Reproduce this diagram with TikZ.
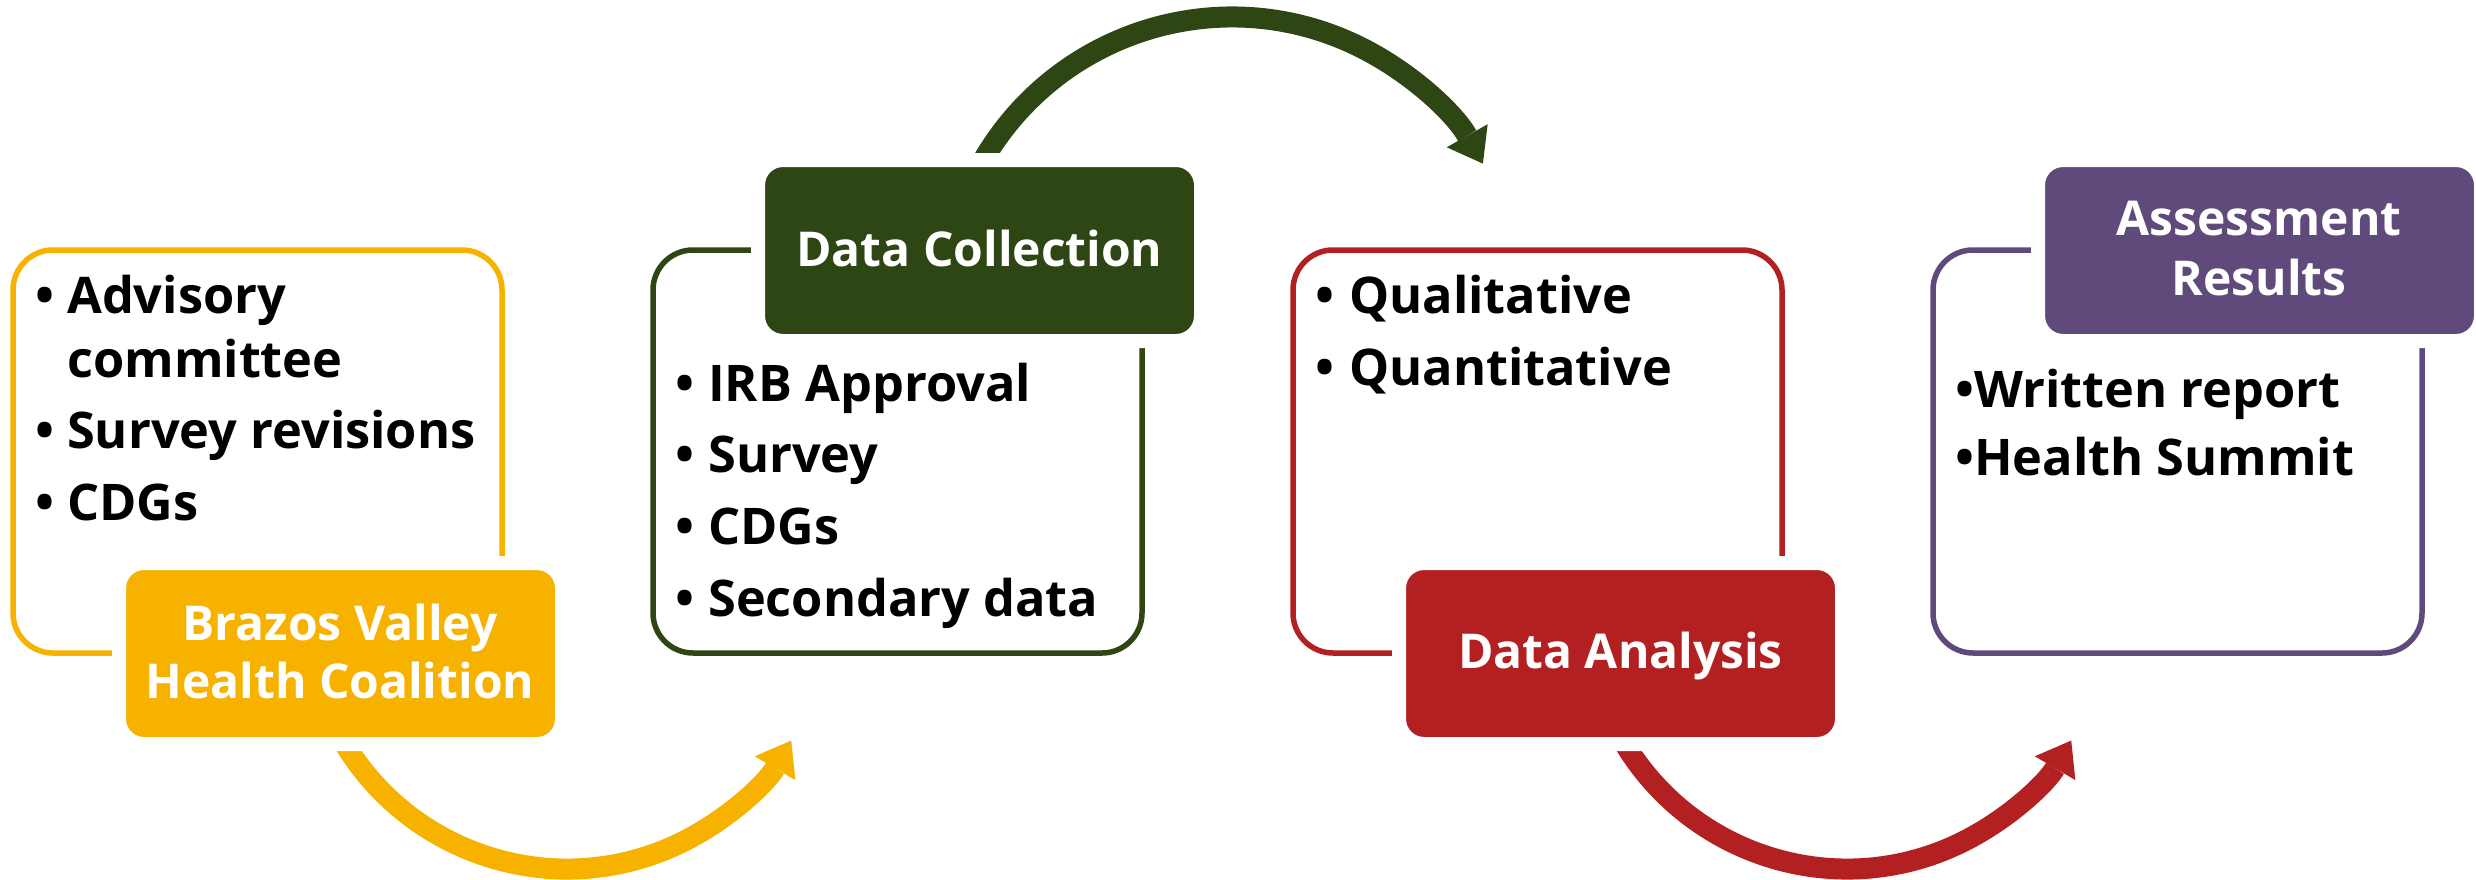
\documentclass[tikz,border=0pt]{standalone}
\usepackage{fontspec}
\setmainfont{Open Sans}
\usetikzlibrary{arrows.meta,calc}
\definecolor{cy}{RGB}{247,178,0}
\definecolor{cg}{RGB}{46,70,20}
\definecolor{cr}{RGB}{178,32,34}
\definecolor{cp}{RGB}{96,74,123}
\begin{document}
\begin{tikzpicture}[x=1pt,y=-1pt,
  outl/.style={draw=#1, line width=5.5pt, rounded corners=40pt, minimum width=489pt, minimum height=403pt, anchor=north west, inner sep=0pt, outer sep=0pt},
  hbox/.style={fill=#1, draw=white, line width=14pt, rounded corners=25pt, minimum width=443pt, minimum height=181pt, anchor=north west, inner sep=0pt, outer sep=0pt},
  body/.style={anchor=base west, inner sep=0pt, font=\fontsize{50.5}{60}\selectfont\bfseries},
  head/.style={anchor=base, inner sep=0pt, text=white, font=\fontsize{48}{58}\selectfont\bfseries},
  arr/.style={draw=#1, line width=21pt, -{Triangle[length=32pt,width=47pt,line width=0pt]}}]
\useasboundingbox (0,0) rectangle (2476,879);
% arc centres and arrow ends
\coordinate (c1) at (567,609);
\coordinate (c2) at (1232,305);
\coordinate (c3) at (1847,609);
\coordinate (t1) at ($(c1)+(153:260)$);
\coordinate (t2) at ($(c2)+(206.8:288)$);
\coordinate (t3) at ($(c3)+(153:260)$);
% arrows
\draw[arr=cy] (t1) arc[start angle=153, end angle=30.4, radius=260];
\draw[arr=cg] (t2) arc[start angle=206.8, end angle=330.6, radius=288];
\draw[arr=cr] (t3) arc[start angle=153, end angle=30.4, radius=260];
% outline boxes
\node[outl=cy] (o1) at (13,250) {};
\node[outl=cg] (o2) at (653,250) {};
\node[outl=cr] (o3) at (1293,250) {};
\node[outl=cp] (o4) at (1933,250) {};
% filled header boxes (white rim hides the outline behind)
\node[hbox=cy] (h1) at (119,563) {};
\node[hbox=cg] (h2) at (758,160) {};
\node[hbox=cr] (h3) at (1399,563) {};
\node[hbox=cp] (h4) at (2038,160) {};
% header texts
\node[head] (h1a) at (340,640) {Brazos Valley};
\node[head] (h1b) at (340,698) {Health Coalition};
\node[head] (h2a) at (979.5,266) {Data Collection};
\node[head] (h3a) at (1620.5,668) {Data Analysis};
\node[head] (h4a) at (2259,235) {Assessment};
\node[head] (h4b) at (2259,295) {Results};
% box 1 items
\node[body] (b1a) at (35,313) {\makebox[32pt][l]{•}Advisory};
\node[body] (b1b) at (67,377) {committee};
\node[body] (b1c) at (35,448) {\makebox[32pt][l]{•}Survey revisions};
\node[body] (b1d) at (35,520) {\makebox[32pt][l]{•}CDGs};
% box 2 items
\node[body] (b2a) at (675,401) {\makebox[33pt][l]{•}IRB Approval};
\node[body] (b2b) at (675,472) {\makebox[33pt][l]{•}Survey};
\node[body] (b2c) at (675,544) {\makebox[33pt][l]{•}CDGs};
\node[body] (b2d) at (675,616) {\makebox[33pt][l]{•}Secondary data};
% box 3 items
\node[body] (b3a) at (1315,313) {\makebox[34pt][l]{•}Qualitative};
\node[body] (b3b) at (1315,385) {\makebox[34pt][l]{•}Quantitative};
% box 4 items
\node[body] (b4a) at (1955,407) {•Written report};
\node[body] (b4b) at (1955,475) {•Health Summit};
\end{tikzpicture}
\end{document}
